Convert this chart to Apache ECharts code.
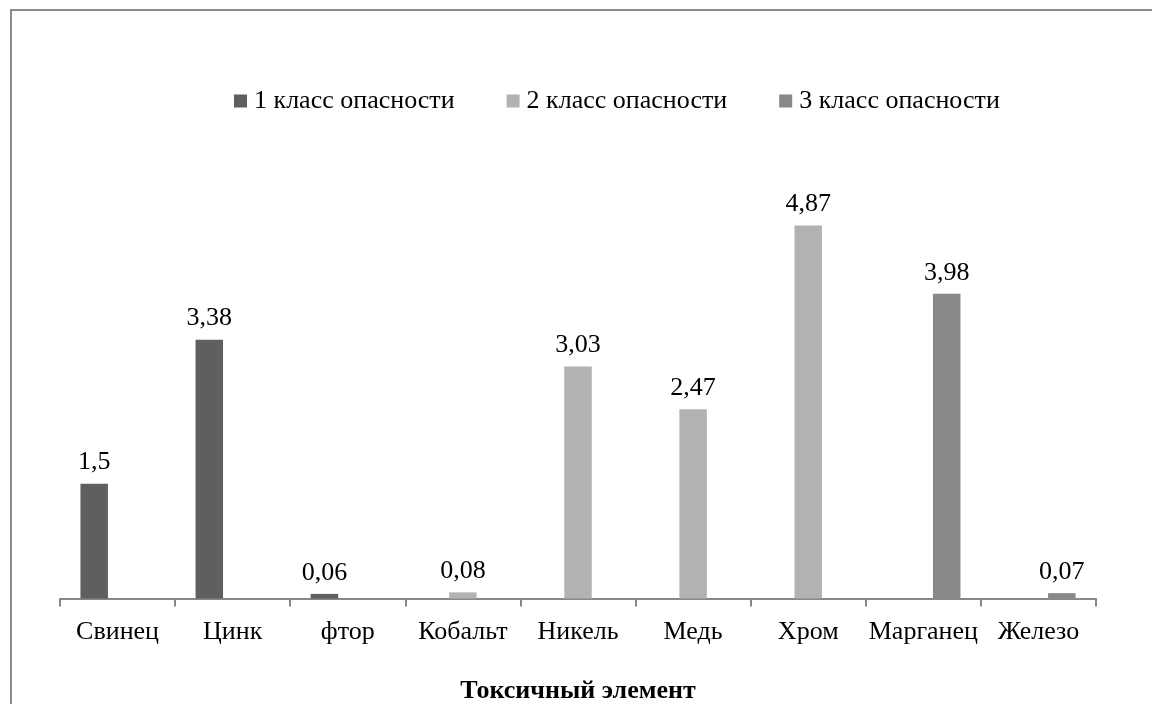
<!DOCTYPE html>
<html>
<head>
<meta charset="utf-8">
<script src="https://cdn.jsdelivr.net/npm/echarts@6/dist/echarts.min.js"></script>
<style>
html,body{margin:0;padding:0;background:#fff;}
#c{width:1152px;height:704px;}
</style>
</head>
<body>
<div id="c"></div>
<script>
const categories = ['Свинец','Цинк','фтор','Кобальт','Никель','Медь','Хром','Марганец','Железо'];
const seriesNames = ['1 класс опасности','2 класс опасности','3 класс опасности'];
const class1 = [1.5, 3.38, 0.06, null, null, null, null, null, null];
const class2 = [null, null, null, 0.08, 3.03, 2.47, 4.87, null, null];
const class3 = [null, null, null, null, null, null, null, 3.98, 0.07];
const colors = ['#5f5f5f','#b2b2b2','#888888'];
const axisTitle = 'Токсичный элемент';

const font = '"Liberation Serif","Times New Roman",serif';
const chart = echarts.init(document.getElementById('c'));
function mk(name, data, color){
  return {
    name, type:'bar', data,
    barWidth: 27.5, barGap: '-15%',
    itemStyle:{color},
    label:{show:true, position:'top', distance:8, color:'#000', fontFamily:font, fontSize:26,
      formatter: p => String(p.value).replace('.', ',')}
  };
}
chart.setOption({
  animation:false,
  color: colors,
  legend:{
    top: 83, left: 229, itemWidth:13, itemHeight:13, itemGap:52,
    icon:'rect',
    textStyle:{fontFamily:font, fontSize:26, color:'#000', padding:[0,0,0,2]},
    data: seriesNames
  },
  grid:{left:60, right:56, top:139, bottom:105.5, containLabel:false, outerBoundsMode:'none'},
  xAxis:{
    type:'category', data:categories,
    axisLine:{lineStyle:{color:'#888', width:2}},
    axisTick:{show:true, length:8, lineStyle:{color:'#888', width:2}},
    axisLabel:{fontFamily:font, fontSize:26, color:'#000', margin:21, interval:0},
    name: axisTitle, nameLocation:'middle', nameGap:80,
    nameTextStyle:{fontFamily:font, fontSize:26, fontWeight:'bold', color:'#000'}
  },
  yAxis:{type:'value', min:0, max:6, show:false, splitLine:{show:false}},
  graphic:[{
    type:'polyline', silent:true,
    shape:{points:[[11,704],[11,10],[1152,10]]},
    style:{stroke:'#8c8c8c', lineWidth:2, fill:null}
  }],
  series:[mk(seriesNames[0], class1, colors[0]), mk(seriesNames[1], class2, colors[1]), mk(seriesNames[2], class3, colors[2])]
});
</script>
</body>
</html>
